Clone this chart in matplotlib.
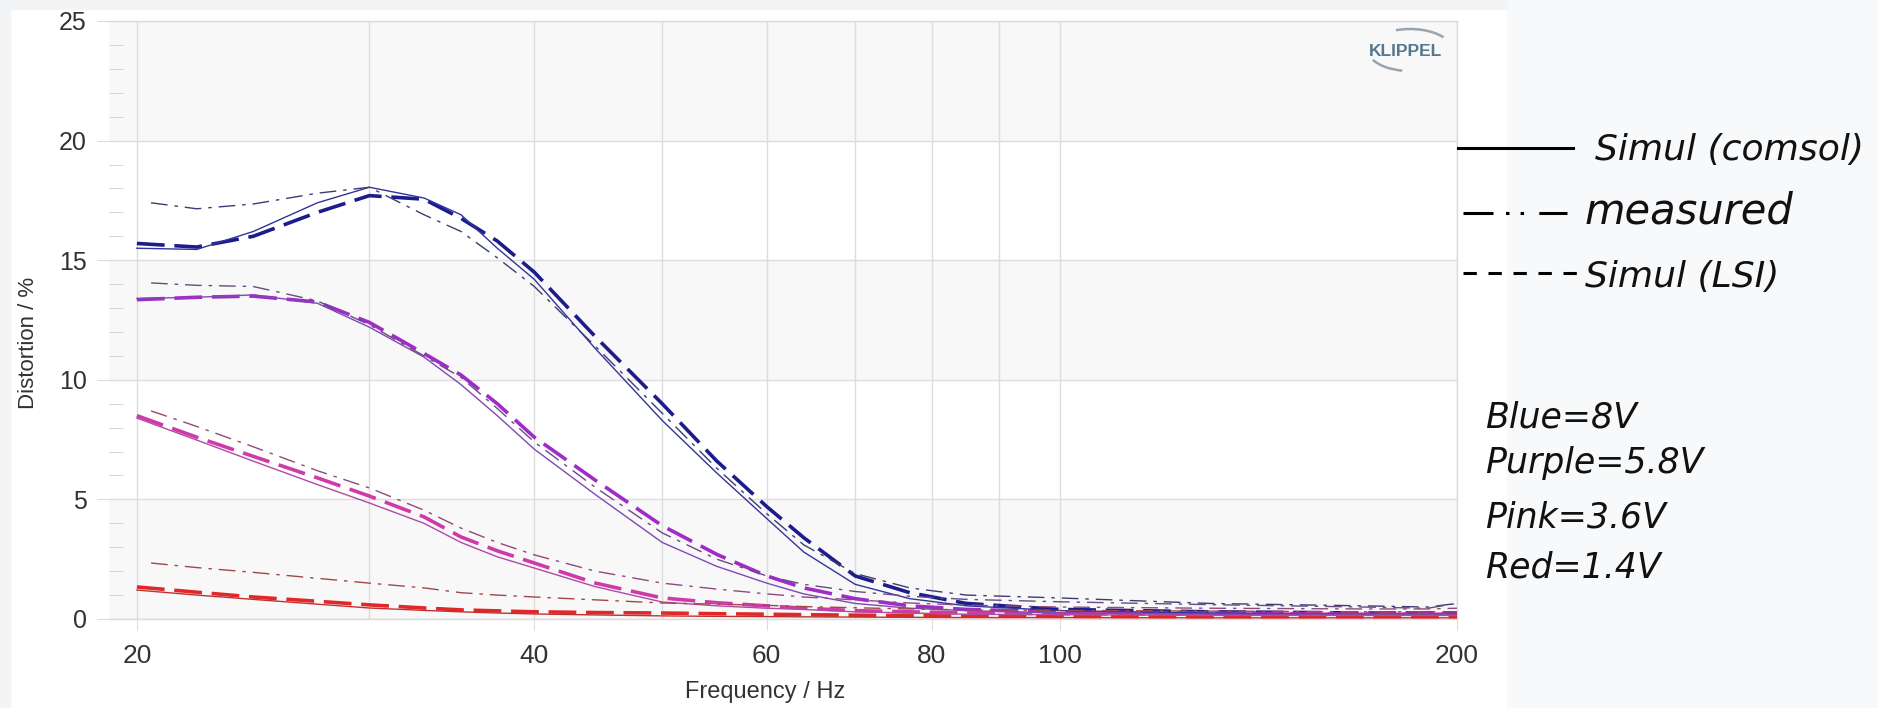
import matplotlib
matplotlib.use("Agg")
import matplotlib.pyplot as plt
from matplotlib.lines import Line2D
from matplotlib.patches import Arc, Rectangle

W, H = 1878, 708

# frequency grid (Hz); measured curves start a little above 20 Hz
freq = [20, 22.2, 24.5, 27.4, 30, 33, 35.2, 37.5, 40, 44.5, 50, 55, 60, 64, 70, 77, 85, 100, 130, 170, 190, 200]
freq_meas = [20.5] + freq[1:]

# distortion in %
blue_comsol = [15.5, 15.45, 16.2, 17.4, 18.05, 17.6, 16.9, 15.5, 14.2, 11.3, 8.3, 6.1, 4.2, 2.8, 1.45, 0.85, 0.55, 0.35, 0.25, 0.2, 0.2, 0.2]
blue_lsi = [15.7, 15.55, 16.0, 17.0, 17.7, 17.55, 16.75, 15.8, 14.5, 11.8, 9.0, 6.6, 4.7, 3.4, 1.8, 1.1, 0.65, 0.4, 0.3, 0.25, 0.25, 0.25]
blue_meas = [17.4, 17.15, 17.35, 17.8, 18.05, 16.9, 16.2, 15.1, 13.9, 11.4, 8.6, 6.3, 4.4, 3.1, 1.9, 1.3, 1.0, 0.88, 0.65, 0.55, 0.5, 0.65]

purple_comsol = [13.4, 13.45, 13.55, 13.2, 12.2, 10.95, 9.8, 8.5, 7.1, 5.2, 3.2, 2.2, 1.5, 1.05, 0.65, 0.45, 0.35, 0.25, 0.2, 0.2, 0.2, 0.2]
purple_lsi = [13.35, 13.45, 13.5, 13.25, 12.4, 11.1, 10.2, 9.0, 7.6, 5.8, 3.9, 2.7, 1.8, 1.3, 0.85, 0.55, 0.4, 0.3, 0.25, 0.2, 0.2, 0.2]
purple_meas = [14.05, 13.95, 13.9, 13.3, 12.3, 11.0, 10.1, 8.8, 7.4, 5.5, 3.6, 2.5, 1.8, 1.45, 1.15, 0.95, 0.82, 0.72, 0.6, 0.5, 0.45, 0.65]

pink_comsol = [8.4, 7.48, 6.6, 5.62, 4.85, 4.0, 3.2, 2.6, 2.13, 1.35, 0.71, 0.55, 0.45, 0.4, 0.3, 0.25, 0.2, 0.18, 0.15, 0.15, 0.15, 0.15]
pink_lsi = [8.5, 7.6, 6.8, 5.9, 5.14, 4.27, 3.43, 2.85, 2.34, 1.5, 0.88, 0.68, 0.55, 0.45, 0.35, 0.3, 0.25, 0.22, 0.2, 0.2, 0.2, 0.2]
pink_meas = [8.7, 8.05, 7.2, 6.2, 5.48, 4.55, 3.8, 3.2, 2.68, 2.0, 1.5, 1.25, 1.05, 0.92, 0.8, 0.67, 0.58, 0.5, 0.45, 0.42, 0.42, 0.45]

red_comsol = [1.21, 1.0, 0.82, 0.62, 0.46, 0.36, 0.3, 0.25, 0.21, 0.17, 0.13, 0.11, 0.1, 0.09, 0.08, 0.07, 0.06, 0.06, 0.05, 0.05, 0.05, 0.05]
red_lsi = [1.34, 1.12, 0.92, 0.74, 0.59, 0.46, 0.38, 0.34, 0.3, 0.27, 0.25, 0.22, 0.2, 0.18, 0.16, 0.14, 0.12, 0.11, 0.1, 0.1, 0.1, 0.1]
red_meas = [2.34, 2.15, 1.95, 1.7, 1.5, 1.3, 1.1, 1.0, 0.92, 0.8, 0.67, 0.62, 0.57, 0.52, 0.47, 0.42, 0.38, 0.36, 0.33, 0.3, 0.3, 0.3]

x_ticks = [20, 40, 60, 80, 100, 200]
x_minor = [30, 50, 70, 90]
y_ticks = [0, 5, 10, 15, 20, 25]

# (lsi, comsol, measured) colours
groups = [
    (blue_lsi, blue_comsol, blue_meas, ("#1c1c8c", "#34349a", "#3c3c72")),
    (purple_lsi, purple_comsol, purple_meas, ("#a02cc8", "#8048b4", "#6a4a84")),
    (pink_lsi, pink_comsol, pink_meas, ("#d03aa8", "#b04aa4", "#8e4a7e")),
    (red_lsi, red_comsol, red_meas, ("#e02828", "#c03232", "#a04848")),
]

plt.rcParams["lines.scale_dashes"] = False
sans = ["Liberation Sans", "DejaVu Sans"]
legfont = ["DejaVu Sans"]
grid_c = "#dcdcdc"
txt_c = "#333333"

fig = plt.figure(figsize=(W / 100, H / 100), dpi=100, facecolor="white")

# backgrounds round the screenshot
fig.add_artist(Rectangle((1507 / W, 0), 1 - 1507 / W, 1, transform=fig.transFigure,
                         color="#f8f9fb", zorder=-5))
fig.add_artist(Rectangle((0, 1 - 9 / H), 1507 / W, 9 / H, transform=fig.transFigure,
                         color="#f3f4f6", zorder=-5))
fig.add_artist(Rectangle((0, 0), 10 / W, 1, transform=fig.transFigure,
                         color="#f3f4f6", zorder=-5))

ax = fig.add_axes([109 / W, 1 - 619 / H, (1457 - 109) / W, (619 - 21) / H])
ax.set_facecolor("white")
for lo in (0, 10, 20):
    ax.axhspan(lo, lo + 5, color="#f8f8f8", zorder=0, lw=0)

for lsi, comsol, meas, (c1, c2, c3) in groups:
    ax.plot(freq, lsi, color=c1, lw=2.6, linestyle=(0, (20, 7)), zorder=3,
            solid_capstyle="butt", dash_capstyle="butt")
    ax.plot(freq, comsol, color=c2, lw=1.0, zorder=4)
    ax.plot(freq_meas, meas, color=c3, lw=1.0, linestyle=(0, (12, 5, 2.5, 5)), zorder=4)

ax.set_xscale("log")
ax.set_xlim(19.05, 200)
ax.set_ylim(0, 25)

ax.set_xticks(x_ticks)
ax.set_xticklabels([str(t) for t in x_ticks])
ax.set_xticks(x_minor, minor=True)
ax.set_yticks(y_ticks)
ax.set_yticklabels([str(t) for t in y_ticks])
ax.set_yticks([v for v in range(0, 26) if v % 5], minor=True)

ax.grid(True, which="major", axis="both", color=grid_c, lw=1.0, zorder=1)
ax.grid(True, which="minor", axis="x", color=grid_c, lw=1.0, zorder=1)
ax.set_axisbelow(True)

ax.tick_params(axis="x", which="major", length=8, color=grid_c, pad=10,
               labelsize=19, labelcolor=txt_c)
ax.tick_params(axis="x", which="minor", length=0)
ax.tick_params(axis="y", which="major", length=9, color=grid_c, pad=7,
               labelsize=18, labelcolor=txt_c)
ax.tick_params(axis="y", which="minor", direction="in", length=10, color="#cfcfcf")
for lab in ax.get_xticklabels() + ax.get_yticklabels():
    lab.set_family(sans)

ax.spines["left"].set_visible(False)
for s in ("top", "right", "bottom"):
    ax.spines[s].set_color(grid_c)
    ax.spines[s].set_linewidth(1.0)

fig.text(29 / W, 1 - 343 / H, "Distortion / %", rotation=90, ha="center", va="center",
         fontsize=16, color=txt_c, family=sans)
fig.text(765 / W, 1 - 692 / H, "Frequency / Hz", ha="center", va="center",
         fontsize=17, color=txt_c, family=sans)

# KLIPPEL logo
fig.text(1406 / W, 1 - 51 / H, "KLIPPEL", ha="center", va="center", fontsize=12.5,
         fontweight="bold", color="#56788f", family=sans)
fig.add_artist(Arc((1410 / W, 1 - 50 / H), 84 / W, 42 / H, theta1=45, theta2=105,
                   transform=fig.transFigure, color="#9aa4ae", lw=1.8))
fig.add_artist(Arc((1410 / W, 1 - 50 / H), 84 / W, 42 / H, theta1=215, theta2=262,
                   transform=fig.transFigure, color="#9aa4ae", lw=1.8))

# hand-made legend on the right
fig.add_artist(Line2D([1458 / W, 1573 / W], [1 - 148 / H] * 2, color="black", lw=2.2,
                      transform=fig.transFigure))
fig.add_artist(Line2D([1463 / W, 1567 / W], [1 - 213 / H] * 2, color="black", lw=2.2,
                      linestyle=(0, (21.6, 9, 2.5, 8, 2.5, 11)), transform=fig.transFigure))
fig.add_artist(Line2D([1463 / W, 1578 / W], [1 - 273 / H] * 2, color="black", lw=2.2,
                      linestyle=(0, (9.6, 8.4)), transform=fig.transFigure))
fig.text(1595 / W, 1 - 150 / H, "Simul (comsol)", ha="left", va="center", fontsize=26,
         style="italic", family=legfont, color="#111111")
fig.text(1585 / W, 1 - 212 / H, "measured", ha="left", va="center", fontsize=30,
         style="italic", family=legfont, color="#111111")
fig.text(1585 / W, 1 - 277 / H, "Simul (LSI)", ha="left", va="center", fontsize=26,
         style="italic", family=legfont, color="#111111")

for label, ypx in [("Blue=8V", 417), ("Purple=5.8V", 463), ("Pink=3.6V", 517), ("Red=1.4V", 567)]:
    fig.text(1485 / W, 1 - ypx / H, label, ha="left", va="center", fontsize=25,
             style="italic", family=legfont, color="#111111")

fig.savefig("out.png", dpi=100, facecolor=fig.get_facecolor())
